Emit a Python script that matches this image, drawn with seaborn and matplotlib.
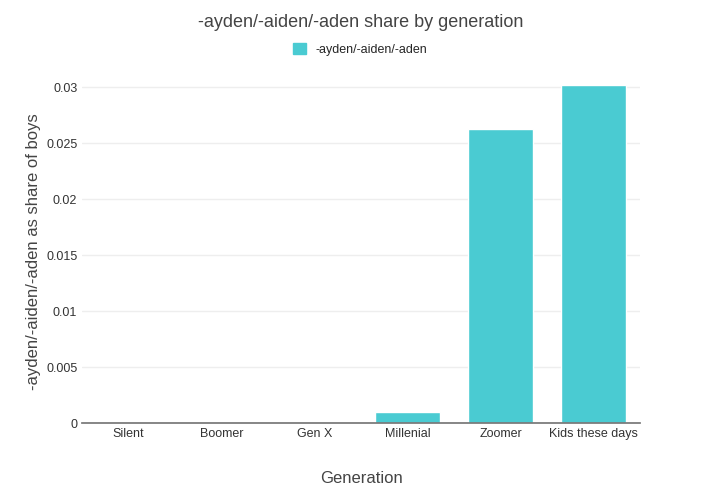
import matplotlib
matplotlib.use("Agg")
import matplotlib.pyplot as plt
import seaborn as sns
import pandas as pd

generations = ["Silent", "Boomer", "Gen X", "Millenial", "Zoomer", "Kids these days"]
share = [0.00003, 0.00001, 0.00005, 0.00097, 0.0263, 0.0302]
series_name = "-ayden/-aiden/-aden"
color = "#4ACBD2"

df = pd.DataFrame({"Generation": generations, "share": share})

sns.set_theme(style="white")
plt.rcParams["font.family"] = ["Liberation Sans", "DejaVu Sans"]
fig = plt.figure(figsize=(7.21, 5.04), dpi=100)
ax = fig.add_axes([0.114, 0.16, 0.774, 0.68])
sns.barplot(data=df, x="Generation", y="share", color=color, saturation=1, width=0.7, ax=ax)
ax.set_ylim(0, 0.0306)
ax.set_yticks([0, 0.005, 0.01, 0.015, 0.02, 0.025, 0.03])
ax.set_yticklabels(["0", "0.005", "0.01", "0.015", "0.02", "0.025", "0.03"])
ax.yaxis.grid(True, color="#eeeeee", linewidth=1)
ax.set_axisbelow(True)
for s in ["top", "right", "left"]:
    ax.spines[s].set_visible(False)
ax.spines["bottom"].set_color("#777777")
ax.tick_params(axis="both", labelsize=9, colors="#333333", length=0)
ax.set_xlabel("Generation", fontsize=12, color="#444444", labelpad=22)
ax.set_ylabel("-ayden/-aiden/-aden as share of boys", fontsize=12, color="#444444")
fig.text(0.5, 0.955, "-ayden/-aiden/-aden share by generation", ha="center", va="center",
         fontsize=13, color="#444444")
from matplotlib.patches import Patch
fig.legend(handles=[Patch(color=color, label=series_name)], loc="center", bbox_to_anchor=(0.5, 0.902),
           frameon=False, fontsize=9, handlelength=1, handleheight=1)
fig.savefig("out.png", dpi=100)
